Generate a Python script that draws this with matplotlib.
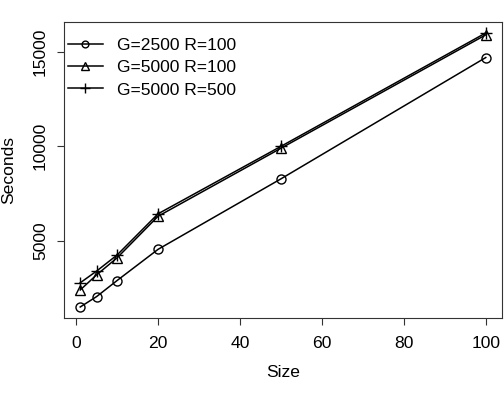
import matplotlib
matplotlib.use('Agg')
import matplotlib.pyplot as plt

# data
sizes = [1, 5, 10, 20, 50, 100]
g2500_r100 = [1500, 2050, 2900, 4550, 8280, 14700]
g5000_r100 = [2400, 3200, 4100, 6300, 9900, 15900]
g5000_r500 = [2780, 3400, 4250, 6430, 10000, 16000]

x_ticks = [0, 20, 40, 60, 80, 100]
y_ticks = [5000, 10000, 15000]

plt.rcParams['font.family'] = ['Liberation Sans', 'DejaVu Sans']
fs = 12.6

fig = plt.figure(figsize=(5.04, 3.93), dpi=100)
ax = fig.add_axes([0.127, 0.191, 0.869, 0.753])

ax.plot(sizes, g2500_r100, color='black', lw=1.1, marker='o', ms=6.5,
        mfc='none', mew=1.0, label='G=2500 R=100')
ax.plot(sizes, g5000_r100, color='black', lw=1.1, marker='^', ms=7.5,
        mfc='none', mew=1.0, label='G=5000 R=100')
ax.plot(sizes, g5000_r500, color='black', lw=1.1, marker='+', ms=9,
        mew=1.0, label='G=5000 R=500')

ax.set_xlim(-2.96, 103.96)
ax.set_ylim(920, 16580)
ax.set_xticks(x_ticks)
ax.set_yticks(y_ticks)
ax.set_yticklabels([str(v) for v in y_ticks], rotation=90, va='center')
ax.tick_params(labelsize=fs, length=5, width=0.8, color='#333333')
ax.tick_params(axis='x', pad=8)
ax.tick_params(axis='y', pad=6.5)
for s in ax.spines.values():
    s.set_linewidth(0.8)
    s.set_color('#333333')

ax.set_xlabel('Size', fontsize=fs)
ax.set_ylabel('Seconds', fontsize=fs)
ax.xaxis.set_label_coords(0.5, -0.158)
ax.yaxis.set_label_coords(-0.11, 0.5)

# legend sits flush in the top-left corner, no frame
ax.legend(loc='upper left', bbox_to_anchor=(-0.027, 1.0), frameon=False,
          fontsize=fs, handlelength=2.0, markerscale=0.75,
          borderaxespad=0.15, borderpad=0.75, labelspacing=0.4,
          handletextpad=0.8)

fig.savefig('out.png', dpi=100)
